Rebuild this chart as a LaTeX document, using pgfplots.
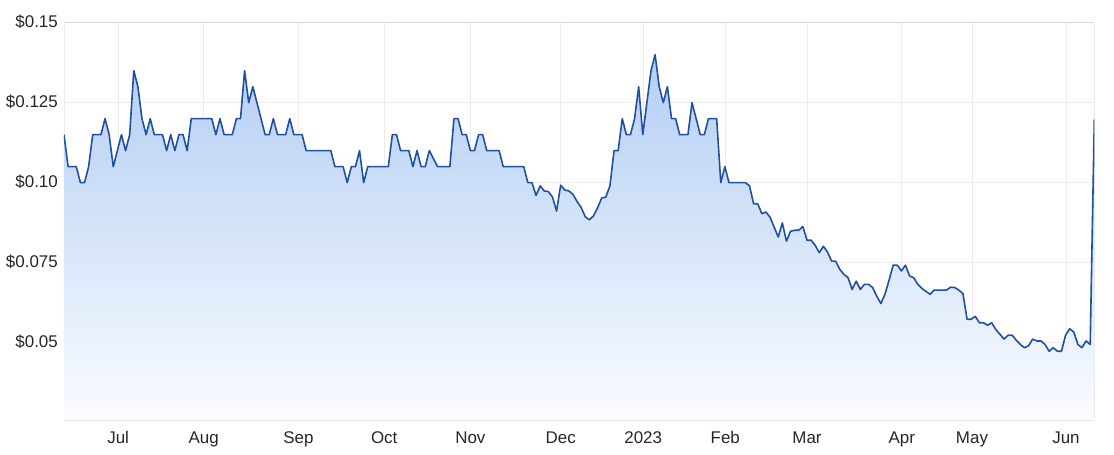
\documentclass[border=0pt]{standalone}
\usepackage{pgfplots}
\pgfplotsset{compat=1.18}
\usepackage{pgfplotstable}
\usepackage{fontspec}
\setmainfont{Liberation Sans}
\definecolor{lineblue}{HTML}{2150A2}
\definecolor{filltop}{HTML}{B3CEF3}
\definecolor{fillbot}{HTML}{FAFCFF}
\definecolor{gridc}{HTML}{EBEBEB}
\definecolor{txt}{HTML}{262626}
\pgfplotstableread{
d v
0 0.115
1 0.105
2 0.105
3 0.105
4 0.100
5 0.100
6 0.105
7 0.115
8 0.115
9 0.115
10 0.120
11 0.115
12 0.105
13 0.110
14 0.115
15 0.110
16 0.115
17 0.135
18 0.130
19 0.120
20 0.115
21 0.120
22 0.115
23 0.115
24 0.115
25 0.110
26 0.115
27 0.110
28 0.115
29 0.115
30 0.110
31 0.120
32 0.120
33 0.120
34 0.120
35 0.120
36 0.120
37 0.115
38 0.120
39 0.115
40 0.115
41 0.115
42 0.120
43 0.120
44 0.135
45 0.125
46 0.130
47 0.125
48 0.120
49 0.115
50 0.115
51 0.120
52 0.115
53 0.115
54 0.115
55 0.120
56 0.115
57 0.115
58 0.115
59 0.110
60 0.110
61 0.110
62 0.110
63 0.110
64 0.110
65 0.110
66 0.105
67 0.105
68 0.105
69 0.100
70 0.105
71 0.105
72 0.110
73 0.100
74 0.105
75 0.105
76 0.105
77 0.105
78 0.105
79 0.105
80 0.115
81 0.115
82 0.110
83 0.110
84 0.110
85 0.105
86 0.110
87 0.105
88 0.105
89 0.110
90 0.1075
91 0.105
92 0.105
93 0.105
94 0.105
95 0.120
96 0.120
97 0.115
98 0.115
99 0.110
100 0.110
101 0.115
102 0.115
103 0.110
104 0.110
105 0.110
106 0.110
107 0.105
108 0.105
109 0.105
110 0.105
111 0.105
112 0.105
113 0.100
114 0.100
115 0.0960
116 0.0990
117 0.0974
118 0.0972
119 0.0955
120 0.0911
121 0.0992
122 0.0977
123 0.0974
124 0.0963
125 0.0941
126 0.0922
127 0.0893
128 0.0884
129 0.0896
130 0.0922
131 0.0952
132 0.0955
133 0.0990
134 0.110
135 0.110
136 0.120
137 0.115
138 0.115
139 0.120
140 0.130
141 0.115
142 0.125
143 0.135
144 0.140
145 0.130
146 0.125
147 0.130
148 0.120
149 0.120
150 0.115
151 0.115
152 0.115
153 0.125
154 0.120
155 0.115
156 0.115
157 0.120
158 0.120
159 0.120
160 0.100
161 0.105
162 0.100
163 0.100
164 0.100
165 0.100
166 0.100
167 0.0990
168 0.0934
169 0.0934
170 0.0903
171 0.0908
172 0.0892
173 0.0861
174 0.0830
175 0.0874
176 0.0817
177 0.0848
178 0.0851
179 0.0851
180 0.0863
181 0.0820
182 0.0820
183 0.0804
184 0.0781
185 0.0801
186 0.0783
187 0.0755
188 0.0754
189 0.0729
190 0.0713
191 0.0703
192 0.0666
193 0.0692
194 0.0666
195 0.0682
196 0.0682
197 0.0672
198 0.0645
199 0.0622
200 0.0651
201 0.0695
202 0.0742
203 0.0742
204 0.0724
205 0.0742
206 0.0708
207 0.0703
208 0.0682
209 0.0669
210 0.0660
211 0.0651
212 0.0664
213 0.0664
214 0.0664
215 0.0664
216 0.0673
217 0.0672
218 0.0664
219 0.0653
220 0.0573
221 0.0573
222 0.0582
223 0.0562
224 0.0562
225 0.0554
226 0.0562
227 0.0541
228 0.0526
229 0.0511
230 0.0523
231 0.0523
232 0.0507
233 0.0494
234 0.0484
235 0.0490
236 0.0511
237 0.0505
238 0.0505
239 0.0494
240 0.0473
241 0.0484
242 0.0473
243 0.0473
244 0.0523
245 0.0543
246 0.0533
247 0.0494
248 0.0484
249 0.0505
250 0.0494
251 0.1198
}\pricedata
\begin{document}
\begin{tikzpicture}
\path[use as bounding box] (0,0) rectangle (1114bp,455bp);
\begin{axis}[
  at={(64bp,34.7bp)}, anchor=south west,
  scale only axis, width=1030.3bp, height=397.6bp,
  xmin=0, xmax=251, ymin=0.0257, ymax=0.15,
  xtick={13.2,34.05,57.1,78,99,121,141.1,161.1,181,204.1,221.2,244.1},
  xticklabels={Jul,Aug,Sep,Oct,Nov,Dec,2023,Feb,Mar,Apr,May,Jun},
  ytick={0.05,0.075,0.1,0.125,0.15},
  yticklabels={\$0.05,\$0.075,\$0.10,\$0.125,\$0.15},
  major tick length=0pt,
  grid=major,
  grid style={draw=gridc, line width=0.8bp},
  separate axis lines,
  x axis line style={draw=black!15, line width=0.8bp},
  y axis line style={draw=gridc, line width=0.8bp},
  tick label style={font=\fontsize{17}{20}\selectfont, text=txt, inner sep=0pt},
  xticklabel style={anchor=base, yshift=-23bp},
  yticklabel style={anchor=base east, xshift=-6bp, yshift=-5bp},
  clip=true,
]
\addplot[draw=none, shade, top color=filltop, bottom color=fillbot] table[x=d,y=v]{\pricedata} \closedcycle;
\addplot[lineblue, line width=1.6bp, line join=round] table[x=d,y=v]{\pricedata};
\end{axis}
\end{tikzpicture}
\end{document}
